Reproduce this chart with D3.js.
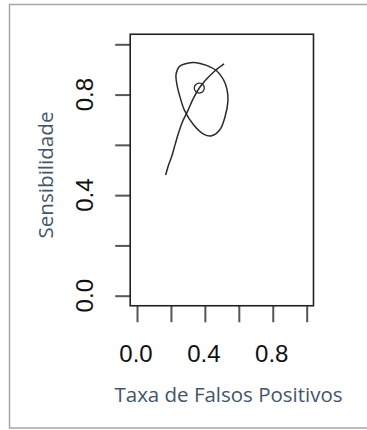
<!DOCTYPE html>
<html lang="pt">
<head>
    <meta charset="utf-8">
    <script src="https://cdn.jsdelivr.net/npm/d3@7"></script>
    <style>
        body { margin: 0; background: white; }
        .tick line { stroke: #555; stroke-width: 2px; }
        .domain { display: none; }
        .num { font-family: "Liberation Sans", Arial, sans-serif; font-size: 24px; fill: #111; }
        .title { font-family: "Open Sans", "Noto Sans", sans-serif; font-size: 20.5px; fill: #44546A; }
    </style>
</head>
<body>
<script>
    // ticks and labels
    let tickValues = [0, 0.2, 0.4, 0.6, 0.8, 1.0];
    let labelValues = [0, 0.4, 0.8];

    // curva SROC (taxa de falsos positivos, sensibilidade)
    let srocFpr  = [0.169, 0.186, 0.204, 0.224, 0.244, 0.268, 0.297, 0.330, 0.367, 0.410, 0.460, 0.513];
    let srocSens = [0.480, 0.520, 0.553, 0.600, 0.646, 0.692, 0.732, 0.782, 0.826, 0.862, 0.895, 0.922];

    // ponto resumo
    let summaryFpr = [0.367];
    let summarySens = [0.826];

    // região de confiança
    let regionFpr  = [0.293, 0.250, 0.230, 0.236, 0.253, 0.280, 0.333, 0.392, 0.440, 0.488, 0.518, 0.536, 0.530, 0.509, 0.472, 0.410, 0.350];
    let regionSens = [0.924, 0.912, 0.880, 0.838, 0.792, 0.737, 0.680, 0.643, 0.636, 0.660, 0.710, 0.775, 0.822, 0.860, 0.893, 0.916, 0.927];

    let svg = d3.select("body").append("svg")
        .attr("width", 367).attr("height", 430);

    // moldura externa
    svg.append("rect")
        .attr("x", 9.5).attr("y", 4.5)
        .attr("width", 380).attr("height", 423.5)
        .attr("fill", "none").attr("stroke", "#a6a6a6").attr("stroke-width", 1.5);

    let x = d3.scaleLinear().domain([0, 1]).range([137, 306.7]);
    let y = d3.scaleLinear().domain([0, 1]).range([295.7, 44.3]);

    // eixos
    svg.append("g")
        .attr("transform", "translate(0," + y(-0.04) + ")")
        .call(d3.axisBottom(x).tickValues(tickValues).tickSize(16.5).tickFormat(""));

    svg.append("g")
        .attr("transform", "translate(" + x(-0.04) + ",0)")
        .call(d3.axisLeft(y).tickValues(tickValues).tickSize(15).tickFormat(""));

    // caixa do gráfico
    svg.append("rect")
        .attr("x", x(-0.04)).attr("y", y(1.04))
        .attr("width", x(1.04) - x(-0.04))
        .attr("height", y(-0.04) - y(1.04))
        .attr("fill", "none").attr("stroke", "#222").attr("stroke-width", 1.6);

    svg.append("g").selectAll("text")
        .data(labelValues).enter().append("text")
        .attr("class", "num")
        .attr("text-anchor", "middle")
        .attr("x", function (d) { return x(d) - 1; })
        .attr("y", 362)
        .text(function (d) { return d.toFixed(1); });

    svg.append("g").selectAll("text")
        .data(labelValues).enter().append("text")
        .attr("class", "num")
        .attr("text-anchor", "middle")
        .attr("transform", function (d) { return "translate(93," + y(d) + ") rotate(-90)"; })
        .text(function (d) { return d.toFixed(1); });

    // curvas
    let line = d3.line()
        .x(function (d) { return x(d[0]); })
        .y(function (d) { return y(d[1]); });

    svg.append("path")
        .datum(d3.zip(regionFpr, regionSens))
        .attr("d", line.curve(d3.curveCatmullRomClosed))
        .attr("fill", "none").attr("stroke", "#2a2a2a").attr("stroke-width", 1.5);

    svg.append("path")
        .datum(d3.zip(srocFpr, srocSens))
        .attr("d", line.curve(d3.curveCatmullRom))
        .attr("fill", "none").attr("stroke", "#2a2a2a").attr("stroke-width", 1.5);

    svg.append("g").selectAll("circle")
        .data(d3.zip(summaryFpr, summarySens)).enter().append("circle")
        .attr("cx", function (d) { return x(d[0]); })
        .attr("cy", function (d) { return y(d[1]); })
        .attr("r", 5)
        .attr("fill", "none").attr("stroke", "#2a2a2a").attr("stroke-width", 1.3);

    // títulos
    svg.append("text")
        .attr("class", "title")
        .attr("x", 114.5).attr("y", 401.5)
        .attr("textLength", 228).attr("lengthAdjust", "spacingAndGlyphs")
        .text("Taxa de Falsos Positivos");

    svg.append("text")
        .attr("class", "title")
        .attr("transform", "translate(53,238.5) rotate(-90)")
        .attr("textLength", 127).attr("lengthAdjust", "spacingAndGlyphs")
        .text("Sensibilidade");
</script>
</body>
</html>
